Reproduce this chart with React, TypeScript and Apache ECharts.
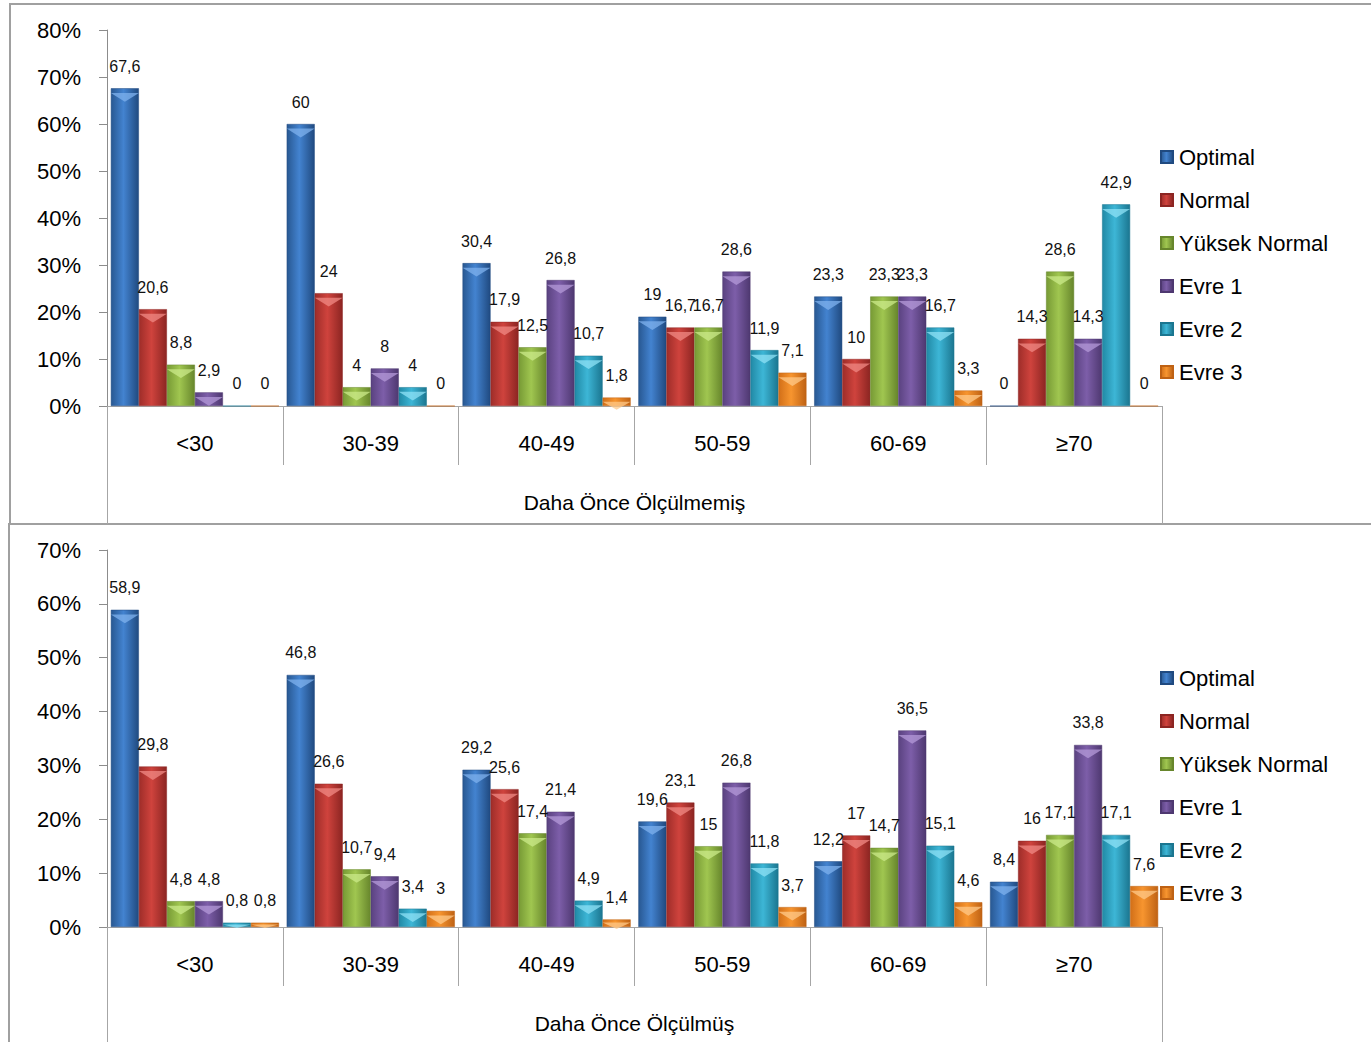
import React, { useEffect, useRef } from "react";
import * as echarts from "echarts";

const categories = ["<30", "30-39", "40-49", "50-59", "60-69", "≥70"];
const seriesNames = ["Optimal", "Normal", "Yüksek Normal", "Evre 1", "Evre 2", "Evre 3"];

// Daha Önce Ölçülmemiş
const topOptimal = [67.6, 60, 30.4, 19, 23.3, 0];
const topNormal = [20.6, 24, 17.9, 16.7, 10, 14.3];
const topYuksek = [8.8, 4, 12.5, 16.7, 23.3, 28.6];
const topEvre1 = [2.9, 8, 26.8, 28.6, 23.3, 14.3];
const topEvre2 = [0, 4, 10.7, 11.9, 16.7, 42.9];
const topEvre3 = [0, 0, 1.8, 7.1, 3.3, 0];

// Daha Önce Ölçülmüş
const botOptimal = [58.9, 46.8, 29.2, 19.6, 12.2, 8.4];
const botNormal = [29.8, 26.6, 25.6, 23.1, 17, 16];
const botYuksek = [4.8, 10.7, 17.4, 15, 14.7, 17.1];
const botEvre1 = [4.8, 9.4, 21.4, 26.8, 36.5, 33.8];
const botEvre2 = [0.8, 3.4, 4.9, 11.8, 15.1, 17.1];
const botEvre3 = [0.8, 3, 1.4, 3.7, 4.6, 7.6];

const topTitle = "Daha Önce Ölçülmemiş";
const bottomTitle = "Daha Önce Ölçülmüş";
const topMax = 80;
const bottomMax = 70;
const yInterval = 10;

const palette = [
  ["#285892", "#4383D0", "#204A80", "#7FB2EE"],
  ["#9E2D29", "#CF433D", "#8C2522", "#F08A84"],
  ["#779A35", "#A0C650", "#67862C", "#CBEA8A"],
  ["#5A4280", "#7D5EA9", "#4E3870", "#B49AD8"],
  ["#2189A5", "#3DB6D6", "#1B7690", "#8FE2F5"],
  ["#D26F18", "#F7952F", "#BF6214", "#FFC98A"],
];

const FONT = "'Liberation Sans', Arial, sans-serif";

function grad(c: string[]) {
  return new echarts.graphic.LinearGradient(0, 0, 1, 0, [
    { offset: 0, color: c[0] },
    { offset: 0.45, color: c[1] },
    { offset: 1, color: c[2] },
  ]);
}

function fmt(v: number) {
  return String(v).replace(".", ",");
}

export default function App() {
  const ref = useRef<HTMLDivElement>(null);

  useEffect(() => {
    if (!ref.current) return;
    const chart = echarts.init(ref.current, undefined, { renderer: "svg" });

    const topData = [topOptimal, topNormal, topYuksek, topEvre1, topEvre2, topEvre3];
    const botData = [botOptimal, botNormal, botYuksek, botEvre1, botEvre2, botEvre3];

    const grids = [
      { left: 107, top: 30, width: 1055, height: 376 },
      { left: 107, top: 550, width: 1055, height: 377 },
    ];

    const catAxis = (gridIndex: number) => ({
      type: "category",
      gridIndex,
      data: categories,
      axisLine: { show: true, lineStyle: { color: "#A6A6A6", width: 1 } },
      axisTick: { show: true, length: 59, lineStyle: { color: "#A6A6A6" } },
      axisLabel: { margin: 26, fontSize: 22, color: "#000", fontFamily: FONT },
    });
    const groupAxis = (gridIndex: number, title: string) => ({
      type: "category",
      gridIndex,
      position: "bottom",
      offset: 59,
      data: [title],
      axisLine: { show: false },
      axisTick: { show: true, length: 59, lineStyle: { color: "#A6A6A6" } },
      axisLabel: { margin: 27, fontSize: 21, color: "#000", fontFamily: FONT },
    });
    const valAxis = (gridIndex: number, max: number) => ({
      type: "value",
      gridIndex,
      min: 0,
      max,
      interval: yInterval,
      splitLine: { show: false },
      axisLine: { show: true, lineStyle: { color: "#8C8C8C" } },
      axisTick: { show: true, length: 8, lineStyle: { color: "#8C8C8C" } },
      axisLabel: {
        formatter: "{value}%",
        margin: 26,
        fontSize: 22,
        color: "#000",
        fontFamily: FONT,
      },
    });

    const makeSeries = (data: number[][], axisIdx: number) =>
      data.map((vals, i) => ({
        type: "bar",
        name: seriesNames[i],
        xAxisIndex: axisIdx,
        yAxisIndex: axisIdx,
        data: vals,
        barGap: "0%",
        barCategoryGap: "4.4%",
        z: 2,
        itemStyle: {
          color: grad(palette[i]),
          borderColor: palette[i][2],
          borderWidth: 0.5,
        },
        label: {
          show: true,
          position: "top",
          distance: 14,
          fontSize: 16,
          color: "#111",
          fontFamily: FONT,
          formatter: (p: any) => fmt(p.value),
        },
      }));

    const makeBevels = (data: number[][], axisIdx: number) =>
      data.map((vals, i) => ({
        type: "pictorialBar",
        name: seriesNames[i] + " bevel",
        xAxisIndex: axisIdx,
        yAxisIndex: axisIdx,
        barGap: "0%",
        barCategoryGap: "4.4%",
        z: 3,
        silent: true,
        symbol: "triangle",
        symbolRotate: 180,
        symbolPosition: "end",
        symbolOffset: [0, "50%"],
        itemStyle: { color: palette[i][3], opacity: 0.75 },
        data: vals.map((v) =>
          v === 0
            ? { value: v, symbol: "none" }
            : { value: v, symbolSize: ["100%", Math.min(9, v * 4.5)] }
        ),
      }));

    const legendCommon = {
      orient: "vertical",
      left: 1155,
      itemWidth: 12,
      itemHeight: 12,
      itemGap: 21,
      icon: "rect",
      textStyle: { fontSize: 22, color: "#000", fontFamily: FONT, lineHeight: 22, padding: [0, 0, 0, 1] },
      data: seriesNames,
      selectedMode: false,
    };

    chart.setOption({
      animation: false,
      backgroundColor: "#fff",
      grid: grids,
      xAxis: [catAxis(0), catAxis(1), groupAxis(0, topTitle), groupAxis(1, bottomTitle)],
      yAxis: [valAxis(0, topMax), valAxis(1, bottomMax)],
      legend: [
        { ...legendCommon, top: 141 },
        { ...legendCommon, top: 662 },
      ],
      series: [
        ...makeSeries(topData, 0),
        ...makeSeries(botData, 1),
        ...makeBevels(topData, 0),
        ...makeBevels(botData, 1),
      ],
      graphic: [
        {
          type: "rect",
          silent: true,
          shape: { x: 10, y: 4, width: 1400, height: 520 },
          style: { fill: "none", stroke: "#A0A0A0", lineWidth: 2 },
        },
        {
          type: "rect",
          silent: true,
          shape: { x: 9, y: 524, width: 1400, height: 560 },
          style: { fill: "none", stroke: "#A0A0A0", lineWidth: 2 },
        },
      ],
    });

    return () => chart.dispose();
  }, []);

  return (
    <div
      ref={ref}
      style={{ position: "absolute", left: 0, top: 0, width: 1371, height: 1042, background: "#fff" }}
    />
  );
}
